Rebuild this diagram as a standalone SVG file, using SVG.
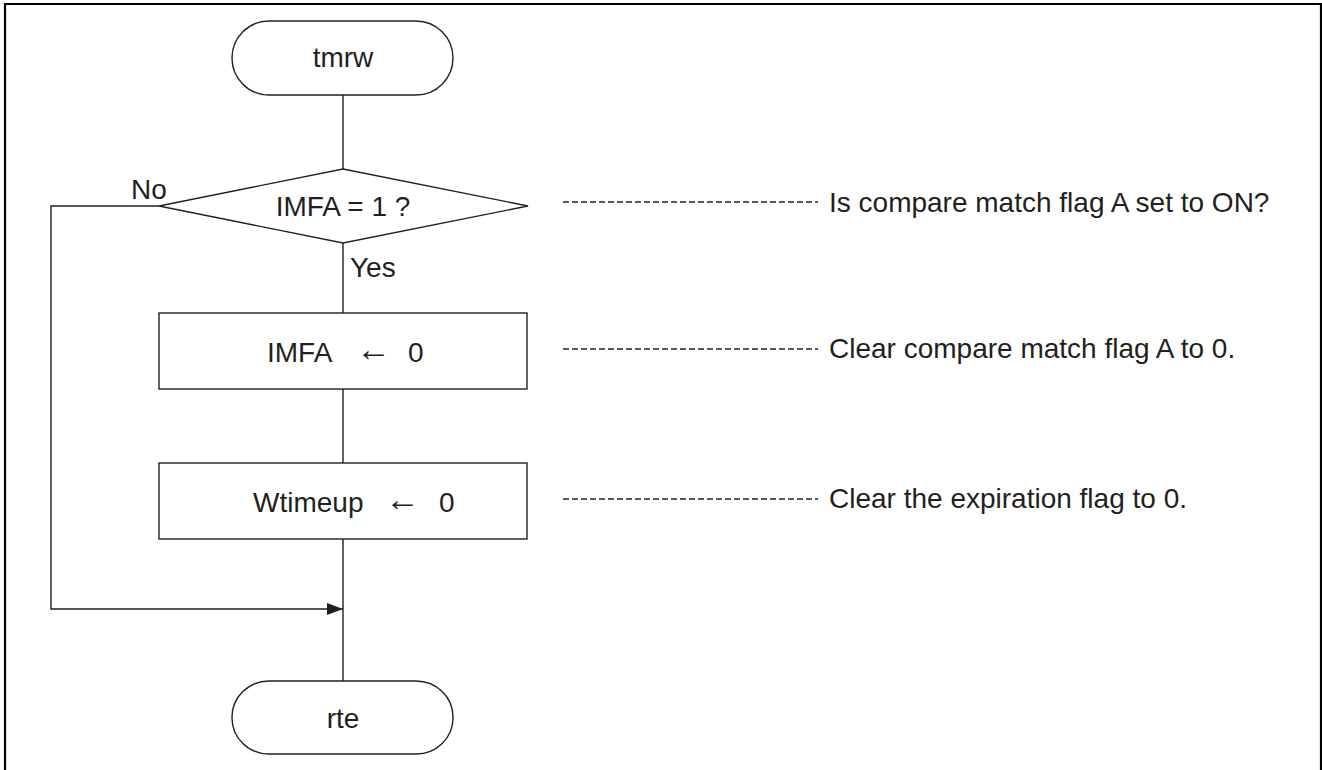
<svg xmlns="http://www.w3.org/2000/svg" width="1322" height="770" viewBox="0 0 1322 770">
  <defs>
    <style>
      .shape { fill: #ffffff; stroke: #231f20; stroke-width: 1.4; }
      .line { fill: none; stroke: #231f20; stroke-width: 1.4; }
      .dash { fill: none; stroke: #231f20; stroke-width: 1.4; stroke-dasharray: 6 3; }
      .txt { font-family: "Liberation Sans", Arial, "DejaVu Sans", sans-serif; font-size: 28px; fill: #231f20; }
      .mid { text-anchor: middle; }
      .assign { font-size: 35px; }
    </style>
    <marker id="arrow" viewBox="0 0 16 12" refX="16" refY="6" markerWidth="16" markerHeight="12" markerUnits="userSpaceOnUse" orient="auto">
      <path d="M0,0 L16,6 L0,12 Z" fill="#231f20"/>
    </marker>
  </defs>

  <rect width="1322" height="770" fill="#ffffff"/>
  <!-- frame (open at the bottom) -->
  <path d="M5,772 V4 H1321 V772" fill="none" stroke="#000000" stroke-width="2.2"/>

  <!-- connectors -->
  <g id="connectors">
    <line class="line" x1="343" y1="95" x2="343" y2="169"/>
    <line class="line" x1="343" y1="243" x2="343" y2="313"/>
    <line class="line" x1="343" y1="389" x2="343" y2="463"/>
    <line class="line" x1="343" y1="539" x2="343" y2="681"/>
    <polyline class="line" points="159,206 51,206 51,609 343,609" marker-end="url(#arrow)"/>
    <text class="txt" x="131" y="199">No</text>
    <text class="txt" x="350" y="277">Yes</text>
  </g>

  <g id="start">
    <rect class="shape" x="232" y="21" width="221" height="74" rx="37" ry="37"/>
    <text class="txt mid" x="343" y="67">tmrw</text>
  </g>

  <g id="decision">
    <polygon class="shape" points="343,169 528,206 343,243 159,206"/>
    <text class="txt mid" x="343" y="216">IMFA = 1 ?</text>
  </g>

  <g id="clear-imfa">
    <rect class="shape" x="159" y="313" width="368" height="76"/>
    <text class="txt" y="362"><tspan x="267">IMFA</tspan><tspan class="assign" x="356" y="361">←</tspan><tspan x="408" y="362">0</tspan></text>
  </g>

  <g id="clear-wtimeup">
    <rect class="shape" x="159" y="463" width="368" height="76"/>
    <text class="txt" y="512"><tspan x="253">Wtimeup</tspan><tspan class="assign" x="385" y="511">←</tspan><tspan x="439" y="512">0</tspan></text>
  </g>

  <g id="end">
    <rect class="shape" x="232" y="681" width="221" height="73" rx="37" ry="36"/>
    <text class="txt mid" x="343" y="728">rte</text>
  </g>

  <!-- annotations -->
  <g id="notes">
    <line class="dash" x1="563" y1="202" x2="818" y2="202"/>
    <text class="txt" x="829" y="212">Is compare match flag A set to ON?</text>
    <line class="dash" x1="563" y1="349" x2="818" y2="349"/>
    <text class="txt" x="829" y="358">Clear compare match flag A to 0.</text>
    <line class="dash" x1="563" y1="499" x2="818" y2="499"/>
    <text class="txt" x="829" y="508">Clear the expiration flag to 0.</text>
  </g>
</svg>
